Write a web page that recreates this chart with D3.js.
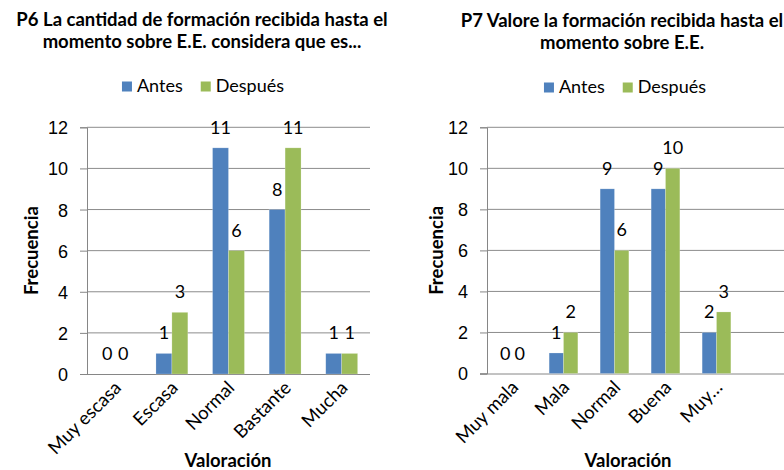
<!DOCTYPE html>
<html>
<head>
<meta charset="UTF-8">
<title>P6 / P7 Valoración</title>
<script src="https://cdn.jsdelivr.net/npm/d3@7/dist/d3.min.js"></script>
<style>
  body { margin: 0; background: #fff; }
  svg { display: block; font-family: Lato, "Open Sans", sans-serif; }
  .grid line { stroke: #8c8c8c; stroke-width: 1; }
  .axis path, .axis line { stroke: #868686; }
  .tick text { fill: #000; font-size: 18px; }
</style>
</head>
<body>
<div id="chart"></div>
<script>
// datos
const seriesNames = ["Antes", "Después"];
const seriesColors = ["#4f81bd", "#9bbb59"];
const yTicks = [0, 2, 4, 6, 8, 10, 12];

const p6Title = ["P6 La cantidad de formación recibida hasta el", "momento sobre E.E. considera que es..."];
const p6Categories = ["Muy escasa", "Escasa", "Normal", "Bastante", "Mucha"];
const p6Antes = [0, 1, 11, 8, 1];
const p6Despues = [0, 3, 6, 11, 1];

const p7Title = ["P7 Valore la formación recibida hasta el", "momento sobre E.E."];
const p7Categories = ["Muy mala", "Mala", "Normal", "Buena", "Muy…", ""];
const p7Antes = [0, 1, 9, 9, 2, null];
const p7Despues = [0, 2, 6, 10, 3, null];

const W = 784, H = 470;
const svg = d3.select("#chart").append("svg")
    .attr("width", W)
    .attr("height", H);

function drawPanel(cfg) {
  const g = svg.append("g");

  const x = d3.scaleBand()
      .domain(cfg.categories)
      .range([cfg.left, cfg.right]);
  const bw = x.bandwidth() / 3.55;
  const x1 = d3.scaleBand()
      .domain(seriesNames)
      .range([0, 2 * bw]);
  const y = d3.scaleLinear()
      .domain([0, 12])
      .range([cfg.bottom, cfg.top]);

  // lineas de cuadricula
  g.append("g").attr("class", "grid")
    .selectAll("line")
    .data(yTicks.filter(d => d > 0))
    .enter().append("line")
      .attr("x1", cfg.left).attr("x2", cfg.right)
      .attr("y1", d => y(d)).attr("y2", d => y(d));

  // eje Y
  g.append("g").attr("class", "axis")
      .attr("transform", "translate(" + cfg.left + ",0)")
      .call(d3.axisLeft(y).tickValues(yTicks).tickSize(7).tickPadding(12))
      .call(a => a.selectAll("text").attr("dy", "0.36em"));

  // eje X
  g.append("g").attr("class", "axis")
      .attr("transform", "translate(0," + cfg.bottom + ")")
      .call(d3.axisBottom(x).tickSize(0).tickFormat(""))
      .call(a => a.select("path").attr("d", "M" + (cfg.left - 7) + ",0.5H" + cfg.right));

  const rows = cfg.categories.map((c, i) => ({cat: c, vals: [cfg.antes[i], cfg.despues[i]]}));

  const groups = g.selectAll(".grp")
    .data(rows)
    .enter().append("g")
      .attr("class", "grp")
      .attr("transform", d => "translate(" + (x(d.cat) + (x.bandwidth() - 2 * bw) / 2) + ",0)");

  const items = groups.selectAll(".item")
    .data(d => d.vals.map((v, k) => ({s: seriesNames[k], k: k, v: v})).filter(e => e.v !== null))
    .enter();

  items.append("rect")
      .attr("x", d => x1(d.s))
      .attr("width", x1.bandwidth())
      .attr("y", d => y(d.v))
      .attr("height", d => y(0) - y(d.v))
      .attr("fill", d => seriesColors[d.k])
      .attr("stroke", "#fff")
      .attr("stroke-opacity", 0.35)
      .attr("stroke-width", 0.6);

  items.append("text")
      .attr("x", d => x1(d.s) + x1.bandwidth() / 2)
      .attr("y", d => y(d.v) - 14)
      .attr("text-anchor", "middle")
      .style("font-size", "18px")
      .text(d => d.v);

  // etiquetas de categoria giradas
  g.selectAll(".cat")
    .data(cfg.categories)
    .enter().append("text")
      .attr("class", "cat")
      .attr("text-anchor", "end")
      .style("font-size", "18.5px")
      .attr("transform", d => "translate(" + (x(d) + x.bandwidth() / 2 + 7) + "," + (cfg.bottom + 15) + ") rotate(-45)")
      .text(d => d);

  // titulo
  g.append("text")
      .attr("text-anchor", "middle")
      .style("font-size", "18.5px").style("font-weight", "bold")
      .selectAll("tspan")
      .data(cfg.title)
      .enter().append("tspan")
        .attr("x", cfg.titleX)
        .attr("y", (d, i) => cfg.titleY[i])
        .text(d => d);

  // leyenda
  const leg = g.append("g");
  let off = 0;
  seriesNames.forEach((s, i) => {
    leg.append("rect")
        .attr("x", off).attr("y", -10.5)
        .attr("width", 10).attr("height", 10)
        .attr("fill", seriesColors[i]);
    const t = leg.append("text")
        .attr("x", off + 15).attr("y", 0)
        .style("font-size", "18px")
        .text(s);
    off += 15 + t.node().getComputedTextLength() + 18;
  });
  off -= 18;
  leg.attr("transform", "translate(" + (cfg.legendX - off / 2) + "," + cfg.legendY + ")");

  // titulos de ejes
  g.append("text")
      .attr("transform", "translate(" + cfg.yTitleX + "," + ((cfg.top + cfg.bottom) / 2) + ") rotate(-90)")
      .attr("text-anchor", "middle")
      .style("font-size", "18.5px").style("font-weight", "bold")
      .text("Frecuencia");

  g.append("text")
      .attr("x", cfg.xTitleX).attr("y", cfg.xTitleY)
      .attr("text-anchor", "middle")
      .style("font-size", "18.5px").style("font-weight", "bold")
      .text("Valoración");
}

drawPanel({
  title: p6Title, categories: p6Categories, antes: p6Antes, despues: p6Despues,
  left: 87, right: 370, top: 127.3, bottom: 374,
  titleX: 202, titleY: [26, 48], legendX: 203, legendY: 92,
  yTitleX: 38, xTitleX: 228, xTitleY: 467
});

drawPanel({
  title: p7Title, categories: p7Categories, antes: p7Antes, despues: p7Despues,
  left: 487, right: 793, top: 127.3, bottom: 373.5,
  titleX: 622, titleY: [27, 49], legendX: 625, legendY: 93,
  yTitleX: 443, xTitleX: 628, xTitleY: 467
});
</script>
</body>
</html>
